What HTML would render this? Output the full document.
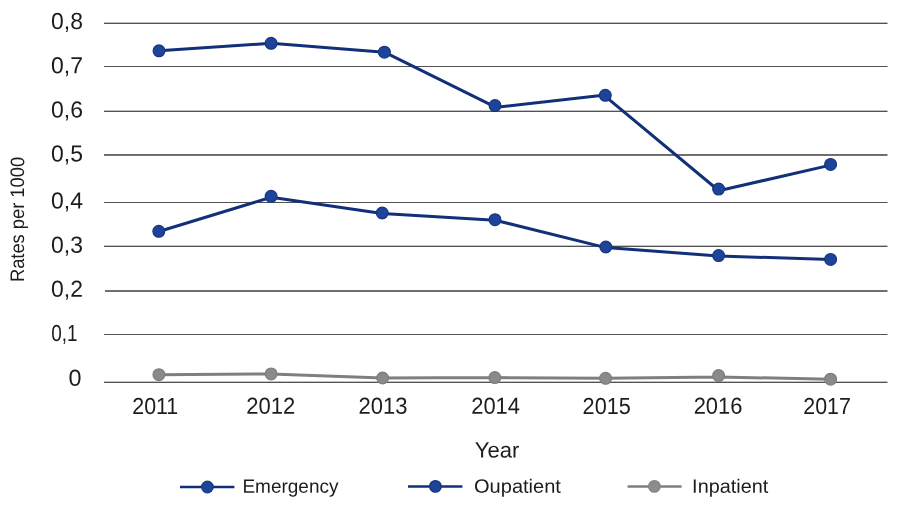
<!DOCTYPE html>
<html><head><meta charset="utf-8"><title>Rates per 1000 by year</title>
<style>
html,body{margin:0;padding:0;background:#fff;}
body{width:900px;height:505px;overflow:hidden;}
svg{display:block;}
text{font-family:"Liberation Sans",sans-serif;fill:#1c1c1c;}
.tick{font-size:23.3px;}
.leg{font-size:19.3px;}
</style></head><body>
<svg width="900" height="505" viewBox="0 0 900 505">
<rect width="900" height="505" fill="#fff"/>

<rect x="104" y="22.65" width="783.5" height="1.35" fill="#525252"/>
<rect x="104" y="66" width="783.5" height="1" fill="#525252"/>
<rect x="104" y="110.65" width="783.5" height="1.35" fill="#525252"/>
<rect x="104" y="154.15" width="783.5" height="1.66" fill="#525252"/>
<rect x="104" y="202" width="783.5" height="1" fill="#525252"/>
<rect x="104" y="245.65" width="783.5" height="1.35" fill="#525252"/>
<rect x="105" y="290.17" width="782.5" height="1.66" fill="#525252"/>
<rect x="104" y="334" width="783.5" height="1" fill="#525252"/>
<rect x="104" y="381.65" width="783.5" height="1.35" fill="#525252"/>
<text id="y0" class="tick" transform="rotate(0.03 51.01 28.95)" x="51.01" y="28.95" textLength="31.93" lengthAdjust="spacingAndGlyphs">0,8</text>
<text id="y1" class="tick" transform="rotate(0.03 51.01 73.15)" x="51.01" y="73.15" textLength="31.93" lengthAdjust="spacingAndGlyphs">0,7</text>
<text id="y2" class="tick" transform="rotate(0.03 51.01 117.55)" x="51.01" y="117.55" textLength="31.93" lengthAdjust="spacingAndGlyphs">0,6</text>
<text id="y3" class="tick" transform="rotate(0.03 51.01 161.45)" x="51.01" y="161.45" textLength="31.93" lengthAdjust="spacingAndGlyphs">0,5</text>
<text id="y4" class="tick" transform="rotate(0.03 51.01 208.45)" x="51.01" y="208.45" textLength="31.93" lengthAdjust="spacingAndGlyphs">0,4</text>
<text id="y5" class="tick" transform="rotate(0.03 51.01 252.65)" x="51.01" y="252.65" textLength="31.93" lengthAdjust="spacingAndGlyphs">0,3</text>
<text id="y6" class="tick" transform="rotate(0.03 51.01 296.65)" x="51.01" y="296.65" textLength="31.93" lengthAdjust="spacingAndGlyphs">0,2</text>
<text id="y7" class="tick" transform="rotate(0.03 51.26 341.15)" x="51.26" y="341.15" textLength="26.34" lengthAdjust="spacingAndGlyphs">0,1</text>
<text id="y8" class="tick" transform="rotate(0.03 68.43 385.65)" x="68.43" y="385.65" textLength="12.99" lengthAdjust="spacingAndGlyphs">0</text>
<text id="x2011" class="tick" transform="rotate(0.03 132.28 413.7)" x="132.28" y="413.7" textLength="45.98" lengthAdjust="spacingAndGlyphs">2011</text>
<text id="x2012" class="tick" transform="rotate(0.03 246.23 413.7)" x="246.23" y="413.7" textLength="48.94" lengthAdjust="spacingAndGlyphs">2012</text>
<text id="x2013" class="tick" transform="rotate(0.03 358.53 413.7)" x="358.53" y="413.7" textLength="48.94" lengthAdjust="spacingAndGlyphs">2013</text>
<text id="x2014" class="tick" transform="rotate(0.03 471.24 413.7)" x="471.24" y="413.7" textLength="48.72" lengthAdjust="spacingAndGlyphs">2014</text>
<text id="x2015" class="tick" transform="rotate(0.03 582.61 413.7)" x="582.61" y="413.7" textLength="48.11" lengthAdjust="spacingAndGlyphs">2015</text>
<text id="x2016" class="tick" transform="rotate(0.03 693.63 413.7)" x="693.63" y="413.7" textLength="48.71" lengthAdjust="spacingAndGlyphs">2016</text>
<text id="x2017" class="tick" transform="rotate(0.03 803.35 413.7)" x="803.35" y="413.7" textLength="47.49" lengthAdjust="spacingAndGlyphs">2017</text>
<text id="year" transform="rotate(0.03 474.80 457.6)" x="474.80" y="457.6" textLength="44.58" lengthAdjust="spacingAndGlyphs" font-size="22">Year</text>
<g transform="translate(24.1,219.5) rotate(-89.97)"><text id="rates" x="-62.60" y="0" textLength="125.20" lengthAdjust="spacingAndGlyphs" font-size="19.6">Rates per 1000</text></g>
<path d="M158.9 374.7L271.1 373.9 M271.1 373.9L382.6 378 M382.6 378L494.8 377.6 M494.8 377.6L605.6 378.3 M605.6 378.3L718.6 377.0 M718.6 377.0L830.6 379.2" fill="none" stroke="#7f7f7f" stroke-width="3" stroke-linecap="round"/>
<circle cx="158.9" cy="374.7" r="5.9" fill="#8a8a8a" stroke="#7d7d7d" stroke-width="1.2"/>
<circle cx="271.1" cy="373.9" r="5.9" fill="#8a8a8a" stroke="#7d7d7d" stroke-width="1.2"/>
<circle cx="382.6" cy="378" r="5.9" fill="#8a8a8a" stroke="#7d7d7d" stroke-width="1.2"/>
<circle cx="494.8" cy="377.6" r="5.9" fill="#8a8a8a" stroke="#7d7d7d" stroke-width="1.2"/>
<circle cx="605.6" cy="378.3" r="5.9" fill="#8a8a8a" stroke="#7d7d7d" stroke-width="1.2"/>
<circle cx="718.6" cy="375.6" r="5.9" fill="#8a8a8a" stroke="#7d7d7d" stroke-width="1.2"/>
<circle cx="830.6" cy="379.2" r="5.9" fill="#8a8a8a" stroke="#7d7d7d" stroke-width="1.2"/>
<path d="M158.9 231.5L271.1 197.3 M271.1 197.3L382.2 213.6 M382.2 213.6L495 220.2 M495 220.2L605.8 247.6 M605.8 247.6L718.6 256.0 M718.6 256.0L830.6 259.5" fill="none" stroke="#12307a" stroke-width="3" stroke-linecap="round"/>
<circle cx="158.8" cy="231.3" r="5.9" fill="#1e439b" stroke="#17367f" stroke-width="1.2"/>
<circle cx="271.1" cy="196.3" r="5.9" fill="#1e439b" stroke="#17367f" stroke-width="1.2"/>
<circle cx="382.2" cy="213" r="5.9" fill="#1e439b" stroke="#17367f" stroke-width="1.2"/>
<circle cx="495" cy="219.7" r="5.9" fill="#1e439b" stroke="#17367f" stroke-width="1.2"/>
<circle cx="605.8" cy="247" r="5.9" fill="#1e439b" stroke="#17367f" stroke-width="1.2"/>
<circle cx="718.6" cy="255.6" r="5.9" fill="#1e439b" stroke="#17367f" stroke-width="1.2"/>
<circle cx="830.6" cy="259.4" r="5.9" fill="#1e439b" stroke="#17367f" stroke-width="1.2"/>
<path d="M159.0 50.8L271.1 43.3 M271.1 43.3L384.4 52.2 M384.4 52.2L495 106.8 M495 107.4L605.3 95.0 M605.3 96.3L718.6 190.5 M718.6 190.8L830.6 165.1" fill="none" stroke="#12307a" stroke-width="3" stroke-linecap="round"/>
<circle cx="159.0" cy="50.8" r="5.9" fill="#1e439b" stroke="#17367f" stroke-width="1.2"/>
<circle cx="271.1" cy="43.3" r="5.9" fill="#1e439b" stroke="#17367f" stroke-width="1.2"/>
<circle cx="384.4" cy="52.2" r="5.9" fill="#1e439b" stroke="#17367f" stroke-width="1.2"/>
<circle cx="495" cy="105.6" r="5.9" fill="#1e439b" stroke="#17367f" stroke-width="1.2"/>
<circle cx="605.3" cy="95.3" r="5.9" fill="#1e439b" stroke="#17367f" stroke-width="1.2"/>
<circle cx="718.6" cy="189.1" r="5.9" fill="#1e439b" stroke="#17367f" stroke-width="1.2"/>
<circle cx="830.6" cy="164.4" r="5.9" fill="#1e439b" stroke="#17367f" stroke-width="1.2"/>
<line x1="180" y1="487" x2="234.4" y2="487" stroke="#12307a" stroke-width="2.5"/>
<circle cx="207.4" cy="487" r="5.8" fill="#1e439b" stroke="#17367f" stroke-width="1.2"/>
<text id="l1" class="leg" transform="rotate(0.03 242.40 492.7)" x="242.40" y="492.7" textLength="96.08" lengthAdjust="spacingAndGlyphs">Emergency</text>
<line x1="408" y1="486.4" x2="462.4" y2="486.4" stroke="#12307a" stroke-width="2.5"/>
<circle cx="435.4" cy="486.4" r="5.8" fill="#1e439b" stroke="#17367f" stroke-width="1.2"/>
<text id="l2" class="leg" transform="rotate(0.03 474.00 492.7)" x="474.00" y="492.7" textLength="86.94" lengthAdjust="spacingAndGlyphs">Oupatient</text>
<line x1="627.6" y1="486.4" x2="681.6" y2="486.4" stroke="#7f7f7f" stroke-width="2.5"/>
<circle cx="654.4" cy="486.4" r="5.8" fill="#8c8c8c" stroke="#858585" stroke-width="1.2"/>
<text id="l3" class="leg" transform="rotate(0.03 692.13 492.7)" x="692.13" y="492.7" textLength="76.10" lengthAdjust="spacingAndGlyphs">Inpatient</text>
</svg></body></html>
